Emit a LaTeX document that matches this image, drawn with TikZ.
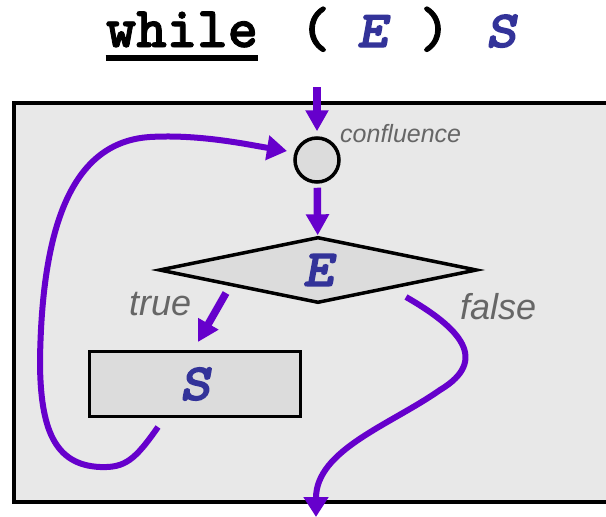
\documentclass[tikz,border=0pt]{standalone}
\usepackage{fontspec}
\setsansfont{Liberation Sans}
\newfontfamily\kwfont{lmmonolt10-bold.otf}[FakeBold=1.5]
\newfontfamily\varfont{lmmonolt10-boldoblique.otf}[FakeBold=2.5, FakeStretch=1.1]
\usetikzlibrary{arrows.meta, shapes.geometric}

\definecolor{flowpurple}{HTML}{6600CC}
\definecolor{codeblue}{HTML}{333399}
\definecolor{labelgray}{HTML}{666666}
\definecolor{panelgray}{HTML}{E8E8E8}
\definecolor{boxgray}{HTML}{DCDCDC}

\begin{document}
\begin{tikzpicture}[x=1pt, y=-1pt,
                    code/.style={font=\fontsize{58}{64}\selectfont\kwfont, inner sep=0pt, anchor=base},
                    var/.style={code, text=codeblue, font=\fontsize{52}{60}\selectfont\varfont},
                    tag/.style={font=\fontsize{36}{40}\selectfont\sffamily\itshape, text=labelgray, inner sep=0pt, anchor=base west},
                    note/.style={tag, font=\fontsize{25}{30}\selectfont\sffamily\itshape},
                    part/.style={draw, line width=3.5pt, fill=boxgray, inner sep=0pt, text=codeblue,
                                 font=\fontsize{52}{60}\selectfont\varfont},
                    merge/.style={part, circle, minimum size=44pt},
                    test/.style={part, diamond, minimum width=318pt, minimum height=66pt},
                    stmt/.style={part, rectangle, minimum width=211pt, minimum height=65pt},
                    flow/.style={draw=flowpurple, line width=7.5pt, -{Triangle[length=21pt,width=22pt]}},
                    wire/.style={draw=flowpurple, line width=6pt, -{Triangle[length=20pt,width=24pt]}}
                    ]
    \useasboundingbox (0,0) rectangle (606,517);

    % the statement itself
    \node[code] (kw)   at (182,47) {while};
    \node[code] (lpar) at (315,47) {(};
    \node[var]  (tE)   at (372,47) {E};
    \node[code] (rpar) at (435,47) {)};
    \node[var]  (tS)   at (501,47) {S};
    \draw[line width=6pt] ([yshift=-11pt]kw.base west) -- ([yshift=-11pt]kw.base east);

    % panel
    \draw[line width=4pt, fill=panelgray] (14,103) rectangle (640,502);

    \node[merge] (conf) at (317,160) {};
    \node[test]  (cond) at (318,270) {E};
    \node[stmt]  (body) at (195,384) {S};

    \node[note] (cflab) at (340,142) {confluence};
    \node[tag]  (tlab)  at (129,315) {true};
    \node[tag]  (flab)  at (460,319) {false};

    \coordinate (entry)   at (317,87);
    \coordinate (tstart)  at (226,293);
    \coordinate (ttip)    at (198,342);
    \coordinate (bstart)  at (158,427);
    \coordinate (backtip) at (287,151);
    \coordinate (fstart)  at (406,297);
    \coordinate (exit)    at (316,517);

    \draw[flow, shorten >=5pt] (entry) -- (conf);
    \draw[flow, shorten <=4pt] (conf) -- (cond);
    \draw[flow] (tstart) -- (ttip);

    % back edge from the body to the confluence
    \draw[wire] (bstart) .. controls (135,460) and (125,468) .. (100,467)
                .. controls (55,465) and (40,430) .. (40,360)
                .. controls (42,230) and (70,142) .. (150,137)
                .. controls (200,134) and (250,145) .. (backtip);

    % way out
    \draw[wire] (fstart) .. controls (460,328) and (490,360) .. (440,390)
                .. controls (390,425) and (316,450) .. (exit);
\end{tikzpicture}
\end{document}
